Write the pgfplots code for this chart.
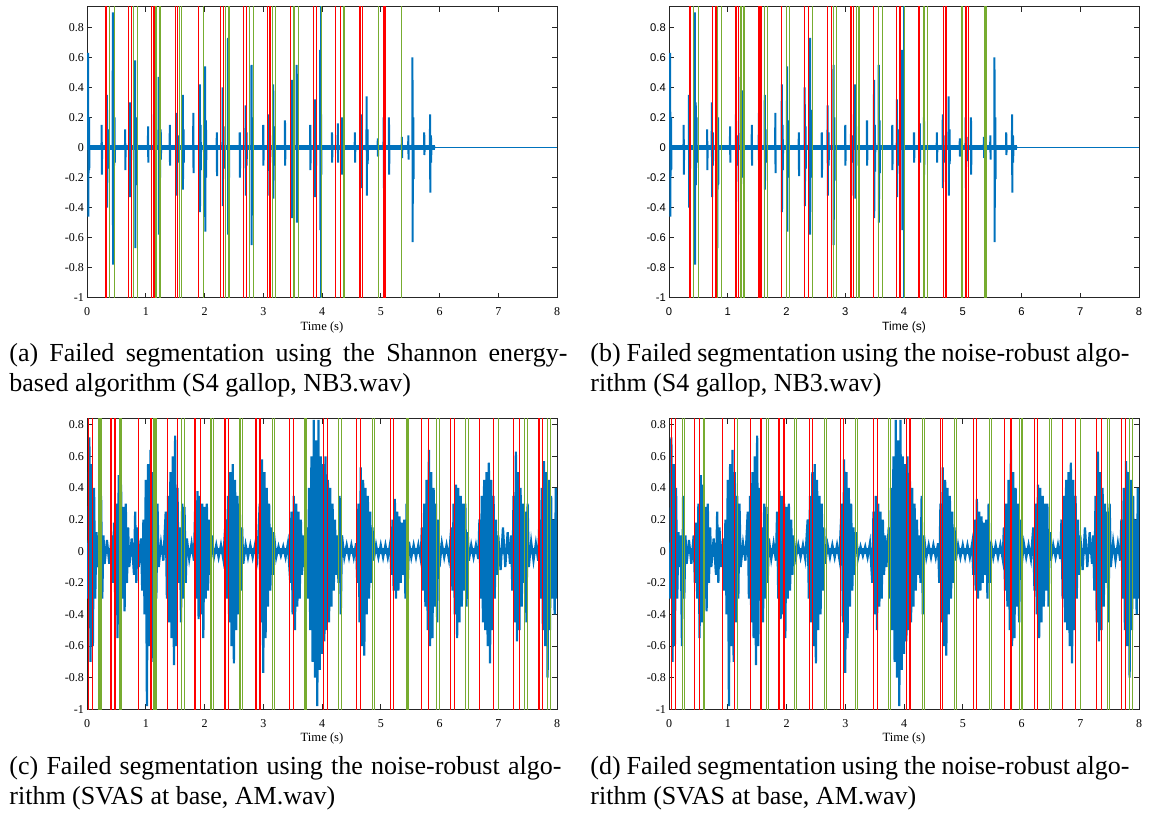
\documentclass[border=0pt]{standalone}
\usepackage{fontspec}
\setmainfont{Liberation Serif}
\newfontfamily\helv{Liberation Sans}
\usepackage{pgfplots}
\pgfplotsset{compat=1.18}
\usepackage{pgfplotstable}

\definecolor{wave}{RGB}{0,114,189}
\definecolor{segred}{RGB}{255,0,0}
\definecolor{seggreen}{RGB}{119,172,48}

% S4 gallop, NB3.wav (spiky heart sounds, ends near 5.93 s)
\pgfplotstableread[row sep=\\]{
t y\\
0.000 0\\
0.016 0\\ 0.020 0.63\\ 0.023 -0.46\\ 0.027 0\\ 0.032 0\\ 0.035 0.2\\ 0.038 -0.15\\ 0.041 0\\
0.246 0\\ 0.250 0.15\\ 0.253 -0.18\\ 0.257 0\\
0.336 0\\ 0.340 0.35\\ 0.343 -0.4\\ 0.347 0\\ 0.352 0\\ 0.355 0.12\\ 0.358 -0.14\\ 0.361 0\\
0.436 0\\ 0.440 0.9\\ 0.443 -0.78\\ 0.447 0\\ 0.452 0\\ 0.455 0.3\\ 0.458 -0.25\\ 0.461 0\\
0.466 0\\ 0.470 0.2\\ 0.473 -0.1\\ 0.477 0\\
0.646 0\\ 0.650 0.12\\ 0.653 -0.15\\ 0.657 0\\
0.726 0\\ 0.730 0.3\\ 0.733 -0.33\\ 0.737 0\\ 0.742 0\\ 0.745 0.1\\ 0.748 -0.12\\ 0.751 0\\
0.816 0\\ 0.820 0.58\\ 0.823 -0.67\\ 0.827 0\\ 0.832 0\\ 0.835 0.2\\ 0.838 -0.25\\ 0.841 0\\
1.036 0\\ 1.040 0.14\\ 1.043 -0.1\\ 1.047 0\\
1.136 0\\ 1.140 0.22\\ 1.143 -0.36\\ 1.147 0\\ 1.152 0\\ 1.155 0.08\\ 1.158 -0.12\\ 1.161 0\\
1.216 0\\ 1.220 0.47\\ 1.223 -0.58\\ 1.227 0\\
1.236 0\\ 1.240 0.38\\ 1.243 -0.2\\ 1.247 0\\ 1.252 0\\ 1.255 0.12\\ 1.258 -0.08\\ 1.261 0\\
1.406 0\\ 1.410 0.15\\ 1.413 -0.12\\ 1.417 0\\
1.526 0\\ 1.530 0.23\\ 1.533 -0.32\\ 1.537 0\\ 1.542 0\\ 1.545 0.08\\ 1.548 -0.1\\ 1.551 0\\
1.626 0\\ 1.630 0.35\\ 1.633 -0.28\\ 1.637 0\\ 1.642 0\\ 1.645 0.12\\ 1.648 -0.1\\ 1.651 0\\
1.806 0\\ 1.810 0.23\\ 1.813 -0.17\\ 1.817 0\\
1.916 0\\ 1.920 0.42\\ 1.923 -0.43\\ 1.927 0\\ 1.932 0\\ 1.935 0.15\\ 1.938 -0.15\\ 1.941 0\\
2.006 0\\ 2.010 0.54\\ 2.013 -0.56\\ 2.017 0\\ 2.022 0\\ 2.025 0.18\\ 2.028 -0.2\\ 2.031 0\\
2.206 0\\ 2.210 0.1\\ 2.213 -0.19\\ 2.217 0\\
2.306 0\\ 2.310 0.4\\ 2.313 -0.39\\ 2.317 0\\ 2.322 0\\ 2.325 0.14\\ 2.328 -0.14\\ 2.331 0\\
2.396 0\\ 2.400 0.73\\ 2.403 -0.58\\ 2.407 0\\ 2.412 0\\ 2.415 0.25\\ 2.418 -0.2\\ 2.421 0\\
2.596 0\\ 2.600 0.1\\ 2.603 -0.2\\ 2.607 0\\
2.696 0\\ 2.700 0.28\\ 2.703 -0.32\\ 2.707 0\\ 2.712 0\\ 2.715 0.1\\ 2.718 -0.12\\ 2.721 0\\
2.796 0\\ 2.800 0.55\\ 2.803 -0.65\\ 2.807 0\\ 2.812 0\\ 2.815 0.2\\ 2.818 -0.22\\ 2.821 0\\
2.996 0\\ 3.000 0.15\\ 3.003 -0.12\\ 3.007 0\\
3.096 0\\ 3.100 0.22\\ 3.103 -0.32\\ 3.107 0\\ 3.112 0\\ 3.115 0.08\\ 3.118 -0.1\\ 3.121 0\\
3.166 0\\ 3.170 0.42\\ 3.173 -0.34\\ 3.177 0\\ 3.182 0\\ 3.185 0.14\\ 3.188 -0.12\\ 3.191 0\\
3.366 0\\ 3.370 0.18\\ 3.373 -0.12\\ 3.377 0\\
3.486 0\\ 3.490 0.45\\ 3.493 -0.47\\ 3.497 0\\ 3.502 0\\ 3.505 0.15\\ 3.508 -0.16\\ 3.511 0\\
3.566 0\\ 3.570 0.55\\ 3.573 -0.5\\ 3.577 0\\ 3.582 0\\ 3.585 0.18\\ 3.588 -0.17\\ 3.591 0\\
3.796 0\\ 3.800 0.15\\ 3.803 -0.15\\ 3.807 0\\
3.876 0\\ 3.880 0.32\\ 3.883 -0.33\\ 3.887 0\\ 3.892 0\\ 3.895 0.12\\ 3.898 -0.12\\ 3.901 0\\
3.966 0\\ 3.970 0.65\\ 3.973 -0.55\\ 3.977 0\\ 3.982 0\\ 3.985 0.22\\ 3.988 -0.18\\ 3.991 0\\
4.166 0\\ 4.170 0.1\\ 4.173 -0.1\\ 4.177 0\\
4.266 0\\ 4.270 0.16\\ 4.273 -0.1\\ 4.277 0\\
4.336 0\\ 4.340 0.2\\ 4.343 -0.18\\ 4.347 0\\
4.556 0\\ 4.560 0.1\\ 4.563 -0.1\\ 4.567 0\\
4.656 0\\ 4.660 0.22\\ 4.663 -0.27\\ 4.667 0\\ 4.672 0\\ 4.675 0.08\\ 4.678 -0.1\\ 4.681 0\\
4.756 0\\ 4.760 0.34\\ 4.763 -0.32\\ 4.767 0\\ 4.772 0\\ 4.775 0.12\\ 4.778 -0.11\\ 4.781 0\\
4.946 0\\ 4.950 0.06\\ 4.953 -0.06\\ 4.957 0\\
5.046 0\\ 5.050 0.2\\ 5.053 -0.27\\ 5.057 0\\ 5.062 0\\ 5.065 0.07\\ 5.068 -0.09\\ 5.071 0\\
5.136 0\\ 5.140 0.2\\ 5.143 -0.18\\ 5.147 0\\
5.356 0\\ 5.360 0.07\\ 5.363 -0.07\\ 5.367 0\\
5.466 0\\ 5.470 0.08\\ 5.473 -0.08\\ 5.477 0\\
5.536 0\\ 5.540 0.6\\ 5.543 -0.63\\ 5.547 0\\ 5.552 0\\ 5.555 0.2\\ 5.558 -0.21\\ 5.561 0\\
5.736 0\\ 5.740 0.1\\ 5.743 -0.05\\ 5.747 0\\
5.836 0\\ 5.840 0.22\\ 5.843 -0.3\\ 5.847 0\\ 5.852 0\\ 5.855 0.08\\ 5.858 -0.1\\ 5.861 0\\
5.930 0\\
}\nbthree

% SVAS at base, AM.wav (dense bursts)
\pgfplotstableread[row sep=\\]{
t y\\
0.00 0.05\\ 0.02 -0.3\\ 0.04 0.72\\ 0.06 -0.7\\ 0.08 0.55\\ 0.10 -0.6\\ 0.12 0.4\\ 0.14 -0.3\\ 0.16 0.12\\ 0.18 -0.1\\
0.20 0.1\\ 0.22 -0.6\\ 0.24 0.35\\ 0.26 -0.3\\ 0.28 0.1\\ 0.30 -0.08\\ 0.34 0.07\\ 0.38 -0.08\\ 0.42 0.1\\ 0.44 -0.2\\
0.46 0.18\\ 0.48 -0.3\\ 0.50 0.3\\ 0.52 -0.55\\ 0.54 0.48\\ 0.56 -0.45\\ 0.58 0.42\\ 0.60 -0.3\\ 0.62 0.28\\ 0.64 -0.38\\
0.66 0.3\\ 0.68 -0.2\\ 0.70 0.15\\ 0.72 -0.1\\ 0.76 0.08\\ 0.80 -0.15\\ 0.82 0.25\\ 0.84 -0.2\\ 0.86 0.15\\ 0.88 -0.1\\
0.92 0.08\\ 0.94 -0.25\\ 0.96 0.2\\ 0.98 -0.4\\ 1.00 0.45\\ 1.02 -0.98\\ 1.04 0.55\\ 1.06 -0.6\\ 1.08 0.64\\ 1.10 -0.7\\
1.12 0.5\\ 1.14 -0.45\\ 1.16 0.35\\ 1.18 -0.3\\ 1.20 0.3\\ 1.22 -0.1\\ 1.26 0.05\\ 1.30 -0.06\\ 1.34 0.25\\ 1.36 -0.3\\
1.38 0.35\\ 1.40 -0.45\\ 1.42 0.5\\ 1.44 -0.55\\ 1.46 0.6\\ 1.48 -0.72\\ 1.50 0.73\\ 1.52 -0.6\\ 1.54 0.4\\ 1.56 -0.2\\
1.58 0.15\\ 1.60 -0.45\\ 1.62 0.3\\ 1.64 -0.3\\ 1.66 0.28\\ 1.68 -0.2\\ 1.70 0.08\\ 1.74 -0.05\\ 1.78 0.05\\ 1.82 -0.06\\
1.84 0.25\\ 1.86 -0.3\\ 1.88 0.38\\ 1.90 -0.43\\ 1.92 0.35\\ 1.94 -0.4\\ 1.96 0.3\\ 1.98 -0.55\\ 2.00 0.28\\ 2.02 -0.3\\
2.04 0.3\\ 2.06 -0.25\\ 2.08 0.2\\ 2.10 -0.15\\ 2.12 0.1\\ 2.16 -0.04\\ 2.20 0.04\\ 2.24 -0.04\\ 2.28 0.04\\ 2.32 -0.05\\
2.36 0.2\\ 2.38 -0.3\\ 2.40 0.35\\ 2.42 -0.45\\ 2.44 0.5\\ 2.46 -0.6\\ 2.48 0.55\\ 2.50 -0.71\\ 2.52 0.45\\ 2.54 -0.5\\
2.56 0.35\\ 2.58 -0.4\\ 2.60 0.3\\ 2.62 -0.25\\ 2.64 0.15\\ 2.66 -0.08\\ 2.70 0.04\\ 2.74 -0.04\\ 2.78 0.04\\ 2.82 -0.04\\
2.86 0.04\\ 2.90 -0.05\\ 2.94 0.3\\ 2.96 -0.45\\ 2.98 0.58\\ 3.00 -0.77\\ 3.02 0.5\\ 3.04 -0.55\\ 3.06 0.4\\ 3.08 -0.35\\
3.10 0.3\\ 3.12 -0.25\\ 3.14 0.15\\ 3.16 -0.15\\ 3.18 0.12\\ 3.22 -0.04\\ 3.26 0.03\\ 3.30 -0.03\\ 3.34 0.03\\ 3.38 -0.04\\
3.42 0.05\\ 3.46 -0.2\\ 3.48 0.25\\ 3.50 -0.4\\ 3.52 0.35\\ 3.54 -0.5\\ 3.56 0.3\\ 3.58 -0.35\\ 3.60 0.25\\ 3.62 -0.3\\
3.64 0.2\\ 3.66 -0.15\\ 3.68 0.1\\ 3.70 -0.1\\ 3.74 0.15\\ 3.76 -0.3\\ 3.78 0.4\\ 3.80 -0.5\\ 3.82 0.6\\ 3.84 -0.7\\
3.86 0.83\\ 3.88 -0.8\\ 3.90 0.7\\ 3.92 -0.98\\ 3.94 0.83\\ 3.96 -0.75\\ 3.98 0.6\\ 4.00 -0.65\\ 4.02 0.55\\ 4.04 -0.57\\
4.06 0.6\\ 4.08 -0.5\\ 4.10 0.45\\ 4.12 -0.45\\ 4.14 0.4\\ 4.16 -0.35\\ 4.18 0.3\\ 4.20 -0.25\\ 4.22 0.2\\ 4.24 -0.15\\
4.26 0.1\\ 4.28 -0.2\\ 4.30 0.35\\ 4.32 -0.4\\ 4.34 0.1\\ 4.38 -0.04\\ 4.42 0.04\\ 4.46 -0.04\\ 4.50 0.04\\ 4.54 -0.04\\
4.58 0.05\\ 4.60 -0.2\\ 4.62 0.3\\ 4.64 -0.45\\ 4.66 0.53\\ 4.68 -0.6\\ 4.70 0.45\\ 4.72 -0.66\\ 4.74 0.4\\ 4.76 -0.4\\
4.78 0.35\\ 4.80 -0.3\\ 4.82 0.25\\ 4.84 -0.2\\ 4.86 0.15\\ 4.88 -0.06\\ 4.92 0.04\\ 4.96 -0.04\\ 5.00 0.04\\ 5.04 -0.04\\
5.08 0.04\\ 5.12 -0.04\\ 5.16 0.05\\ 5.18 -0.15\\ 5.20 0.2\\ 5.22 -0.25\\ 5.24 0.33\\ 5.26 -0.3\\ 5.28 0.25\\ 5.30 -0.25\\
5.32 0.22\\ 5.34 -0.2\\ 5.36 0.18\\ 5.38 -0.15\\ 5.40 0.2\\ 5.42 -0.3\\ 5.44 0.3\\ 5.46 -0.2\\ 5.48 0.06\\ 5.52 -0.04\\
5.56 0.04\\ 5.60 -0.04\\ 5.64 0.04\\ 5.68 -0.05\\ 5.70 0.15\\ 5.72 -0.25\\ 5.74 0.3\\ 5.76 -0.35\\ 5.78 0.45\\ 5.80 -0.5\\
5.82 0.64\\ 5.84 -0.6\\ 5.86 0.5\\ 5.88 -0.55\\ 5.90 0.4\\ 5.92 -0.35\\ 5.94 0.3\\ 5.96 -0.45\\ 5.98 0.2\\ 6.00 -0.1\\
6.04 0.05\\ 6.08 -0.04\\ 6.12 0.04\\ 6.16 -0.05\\ 6.20 0.15\\ 6.22 -0.25\\ 6.24 0.3\\ 6.26 -0.4\\ 6.28 0.42\\ 6.30 -0.55\\
6.32 0.4\\ 6.34 -0.45\\ 6.36 0.35\\ 6.38 -0.35\\ 6.40 0.3\\ 6.42 -0.25\\ 6.44 0.3\\ 6.46 -0.35\\ 6.48 0.12\\ 6.50 -0.06\\
6.54 0.04\\ 6.58 -0.04\\ 6.62 0.04\\ 6.66 -0.05\\ 6.68 0.2\\ 6.70 -0.3\\ 6.72 0.35\\ 6.74 -0.45\\ 6.76 0.45\\ 6.78 -0.5\\
6.80 0.5\\ 6.82 -0.6\\ 6.84 0.56\\ 6.86 -0.71\\ 6.88 0.45\\ 6.90 -0.5\\ 6.92 0.35\\ 6.94 -0.3\\ 6.96 0.2\\ 6.98 -0.15\\
7.00 0.1\\ 7.04 -0.12\\ 7.08 0.15\\ 7.12 -0.1\\ 7.16 0.12\\ 7.20 -0.08\\ 7.22 0.1\\ 7.24 -0.25\\ 7.26 0.35\\ 7.28 -0.45\\
7.30 0.63\\ 7.32 -0.57\\ 7.34 0.5\\ 7.36 -0.5\\ 7.38 0.4\\ 7.40 -0.35\\ 7.42 0.3\\ 7.44 -0.2\\ 7.46 0.25\\ 7.48 -0.45\\
7.50 0.3\\ 7.52 -0.1\\ 7.56 0.06\\ 7.60 -0.06\\ 7.64 0.05\\ 7.68 -0.06\\ 7.70 0.2\\ 7.72 -0.3\\ 7.74 0.4\\ 7.76 -0.5\\
7.78 0.57\\ 7.80 -0.6\\ 7.82 0.5\\ 7.84 -0.8\\ 7.86 0.45\\ 7.88 -0.5\\ 7.90 0.35\\ 7.92 -0.3\\ 7.94 0.2\\ 7.96 -0.4\\
7.98 0.4\\ 8.00 -0.3\\
}\amwav

\newcommand\capfont{\fontsize{13}{15}\selectfont}
\newcommand\tickfont{\fontsize{6}{7}\selectfont}
\newcommand\labfont{\fontsize{6.3}{7}\selectfont}

\pgfplotsset{
  panel/.style={
    scale only axis, width=235pt, height=145.5pt,
    xmin=0, xmax=8, ymin=-1,
    xtick={0,1,2,3,4,5,6,7,8},
    ytick={-1,-0.8,-0.6,-0.4,-0.2,0,0.2,0.4,0.6,0.8},
    tick align=inside, major tick length=2.6pt,
    axis line style={black!85, line width=0.4pt},
    every tick/.style={black!85, line width=0.4pt},
    /pgf/number format/assume math mode=true,
    xticklabel style={anchor=center, yshift=-7pt, font=\tickfont},
    yticklabel style={anchor=east, inner sep=0pt, xshift=-1.4pt, font=\tickfont},
    xlabel={Time (s)},
    xlabel style={at={(axis description cs:0.5,0)}, anchor=center, yshift=-14.8pt, font=\labfont},
  },
  seg/.style={forget plot, only marks, mark size=0pt,
    error bars/.cd, y dir=both, y fixed=2, error mark=none,
    error bar style={line width=0.55pt, color=#1}},
}

\begin{document}
\begin{tikzpicture}
\path[use as bounding box] (0,0) rectangle (575pt,-407.5pt);

% (a)
\begin{axis}[panel, ymax=0.937, at={(43.5pt,-3.35pt)}, anchor=north west]
\addplot[wave, line width=2.6pt, forget plot] coordinates {(0,0) (5.93,0)};
\addplot[wave, line width=0.5pt, forget plot] coordinates {(5.93,0) (8,0)};
\addplot[wave, line width=1pt, forget plot] table[x=t,y=y]{\nbthree};
\addplot[seg=segred] coordinates {(0.323,0) (0.70,0) (0.76,0) (1.10,0) (1.14,0) (1.50,0) (1.544,0) (1.894,0)
  (2.276,0) (2.32,0) (2.66,0) (2.718,0) (3.076,0) (3.115,0) (3.467,0) (3.852,0) (3.91,0) (4.233,0)
  (4.318,0) (4.647,0) (4.686,0) (5.043,0) (5.072,0)};
\addplot[seg=wave] coordinates {(3.97,0)};
\addplot[seg=seggreen] coordinates {(0.38,0) (0.465,0) (0.788,0) (0.856,0) (1.175,0) (1.243,0) (1.571,0)
  (1.612,0) (1.99,0) (2.361,0) (2.417,0) (2.762,0) (2.83,0) (3.16,0) (3.21,0) (3.523,0) (3.597,0)
  (3.985,0) (4.374,0) (4.958,0) (5.357,0)};
\end{axis}

% (b)
\begin{axis}[panel, ymax=0.937, at={(334.5pt,-3.35pt)}, anchor=north west,
  xticklabel style={font=\helv\fontsize{5.6}{7}\selectfont},
  yticklabel style={font=\helv\fontsize{5.6}{7}\selectfont},
  xlabel style={font=\helv\fontsize{6}{7}\selectfont}]
\addplot[wave, line width=2.6pt, forget plot] coordinates {(0,0) (5.93,0)};
\addplot[wave, line width=0.5pt, forget plot] coordinates {(5.93,0) (8,0)};
\addplot[wave, line width=1pt, forget plot] table[x=t,y=y]{\nbthree};
\addplot[seg=segred] coordinates {(0.357,0) (0.737,0) (0.8,0) (1.14,0) (1.18,0) (1.532,0) (1.566,0)
  (1.918,0) (2.303,0) (2.371,0) (2.694,0) (2.769,0) (3.098,0) (3.137,0) (3.477,0) (3.876,0)
  (3.932,0) (4.255,0) (4.669,0) (4.715,0) (5.055,0) (5.094,0)};
\addplot[seg=wave] coordinates {(4.0,0)};
\addplot[seg=seggreen] coordinates {(0.414,0) (0.499,0) (0.829,0) (0.897,0) (1.226,0) (1.277,0)
  (1.622,0) (1.673,0) (2.003,0) (2.048,0) (2.446,0) (2.797,0) (2.854,0) (3.195,0) (3.234,0)
  (3.562,0) (3.631,0) (4.015,0) (4.34,0) (4.403,0) (4.987,0) (5.379,0) (5.407,0)};
\end{axis}

% (c)
\begin{axis}[panel, ymax=0.84, at={(43.5pt,-209.15pt)}, anchor=north west]
\addplot[wave, line width=2.8pt, forget plot] coordinates {(0,0) (8,0)};
\addplot[wave, line width=1.1pt, forget plot] table[x=t,y=y]{\amwav};
\addplot[seg=segred] coordinates {(0.022,0) (0.09,0) (0.409,0) (0.477,0) (0.873,0) (1.09,0) (1.367,0)
  (1.537,0) (1.838,0) (1.935,0) (2.349,0) (2.405,0) (2.877,0) (2.945,0) (3.443,0) (3.511,0)
  (4.03,0) (4.087,0) (4.594,0) (4.65,0) (5.162,0) (5.218,0) (5.691,0) (5.816,0) (6.191,0)
  (6.249,0) (6.686,0) (6.915,0) (7.256,0) (7.369,0) (7.693,0) (7.751,0)};
\addplot[seg=seggreen] coordinates {(0.204,0) (0.238,0) (0.55,0) (0.579,0) (1.14,0) (1.174,0) (1.612,0)
  (1.656,0) (2.11,0) (2.15,0) (2.604,0) (2.65,0) (3.154,0) (3.188,0) (3.71,0) (3.74,0) (4.287,0)
  (4.326,0) (4.855,0) (4.894,0) (5.435,0) (5.464,0) (5.947,0) (6.003,0) (6.447,0) (6.488,0)
  (7.0,0) (7.444,0) (7.495,0) (7.841,0) (7.893,0)};
\end{axis}

% (d)
\begin{axis}[panel, ymax=0.84, at={(334.5pt,-209.15pt)}, anchor=north west]
\addplot[wave, line width=2.8pt, forget plot] coordinates {(0,0) (8,0)};
\addplot[wave, line width=1.1pt, forget plot] table[x=t,y=y]{\amwav};
\addplot[seg=segred] coordinates {(0.041,0) (0.114,0) (0.439,0) (0.512,0) (0.911,0) (1.121,0) (1.389,0)
  (1.565,0) (1.872,0) (1.957,0) (2.384,0) (2.44,0) (2.913,0) (2.969,0) (3.481,0) (3.549,0)
  (4.046,0) (4.102,0) (4.614,0) (4.66,0) (5.183,0) (5.229,0) (5.712,0) (5.821,0) (6.219,0)
  (6.265,0) (6.701,0) (6.918,0) (7.277,0) (7.357,0) (7.698,0) (7.771,0)};
\addplot[seg=seggreen] coordinates {(0.229,0) (0.268,0) (0.58,0) (0.609,0) (1.16,0) (1.662,0) (1.689,0)
  (2.133,0) (2.174,0) (2.64,0) (2.674,0) (3.169,0) (3.208,0) (3.735,0) (3.766,0) (4.312,0)
  (4.346,0) (4.858,0) (4.899,0) (5.456,0) (5.485,0) (5.968,0) (6.009,0) (6.48,0) (6.509,0)
  (7.004,0) (7.459,0) (7.503,0) (7.845,0) (7.886,0)};
\end{axis}

% captions
\node[anchor=base west, inner sep=0pt] at (4.5pt,-180.5pt)
  {\capfont\makebox[279pt][s]{(a) Failed segmentation using the Shannon energy-}};
\node[anchor=base west, inner sep=0pt] at (4.5pt,-195.5pt)
  {\capfont based algorithm (S4 gallop, NB3.wav)};
\node[anchor=base west, inner sep=0pt] at (295pt,-180.5pt)
  {\capfont\makebox[269.5pt][s]{(b) Failed segmentation using the noise-robust algo-}};
\node[anchor=base west, inner sep=0pt] at (295pt,-195.5pt)
  {\capfont rithm (S4 gallop, NB3.wav)};
\node[anchor=base west, inner sep=0pt] at (4.5pt,-387pt)
  {\capfont\makebox[276pt][s]{(c) Failed segmentation using the noise-robust algo-}};
\node[anchor=base west, inner sep=0pt] at (4.5pt,-402.3pt)
  {\capfont rithm (SVAS at base, AM.wav)};
\node[anchor=base west, inner sep=0pt] at (295pt,-387pt)
  {\capfont\makebox[269.5pt][s]{(d) Failed segmentation using the noise-robust algo-}};
\node[anchor=base west, inner sep=0pt] at (295pt,-402.3pt)
  {\capfont rithm (SVAS at base, AM.wav)};
\end{tikzpicture}
\end{document}
